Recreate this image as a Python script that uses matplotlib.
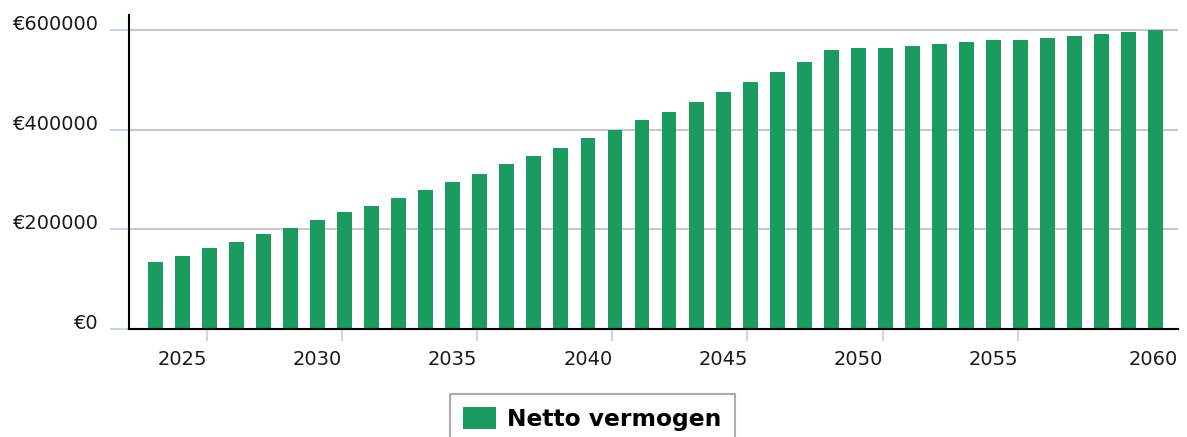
import matplotlib
matplotlib.use("Agg")
import matplotlib.pyplot as plt
from matplotlib.ticker import FuncFormatter

# data
jaren = list(range(2023, 2061))
vermogen = [135000, 147000, 163000, 175000, 191000, 203000, 219000, 235000,
            247000, 263000, 279000, 295000, 311000, 331000, 347000, 363000,
            383000, 399000, 419000, 435000, 455000, 475000, 495000, 515000,
            535000, 559000, 563000, 563000, 567000, 571000, 575000, 579000,
            579000, 583000, 587000, 591000, 595000, 599000]
tick_jaren = [2025, 2030, 2035, 2040, 2045, 2050, 2055, 2060]
y_ticks = [0, 200000, 400000, 600000]
reeks_naam = "Netto vermogen"

groen = "#1a9b60"
tick_kleur = "#ccd6eb"
grid_kleur = "#c8c8c8"

W, H = 1187, 437
fig = plt.figure(figsize=(W / 100, H / 100), dpi=100)
ax = fig.add_axes([129 / W, (H - 329) / H, (1178 - 129) / W, (329 - 15) / H])

ax.bar(jaren, vermogen, width=0.55, color=groen, label=reeks_naam, zorder=3)

ax.set_xlim(2022.02, 2060.83)
ax.set_ylim(0, 630000)

# y-as
ax.set_yticks(y_ticks)
ax.yaxis.set_major_formatter(FuncFormatter(lambda v, p: "€%d" % v))
ax.tick_params(axis="y", length=13.7, width=1.5, color=tick_kleur, pad=8,
               labelsize=14, labelcolor="#1a1a1a")
for lbl in ax.get_yticklabels():
    lbl.set_va("baseline")
ax.grid(axis="y", color=grid_kleur, linewidth=1.5, zorder=0)

# x-as: streepjes net links van de staven, labels een staaf naar links
ax.set_xticks([j - 0.1 for j in tick_jaren], minor=True)
ax.tick_params(axis="x", which="minor", length=8.6, width=1.5, color=tick_kleur)
label_pos = [j - 1 for j in tick_jaren[:-1]] + [2059.9]
ax.set_xticks(label_pos, [str(j) for j in tick_jaren])
ax.tick_params(axis="x", which="major", length=0, pad=15, labelsize=14,
               labelcolor="#1a1a1a")

for s in ["top", "right"]:
    ax.spines[s].set_visible(False)
ax.spines["left"].set_linewidth(1.5)
ax.spines["bottom"].set_linewidth(1.5)
ax.spines["bottom"].set_zorder(4)

leg = fig.legend(loc="upper center", bbox_to_anchor=(592.5 / W, 1 - 394 / H),
                 fancybox=False, edgecolor="#999999", frameon=True,
                 prop={"weight": "bold", "size": 16.8}, handlelength=1.42,
                 handleheight=1.07, borderpad=0.55, handletextpad=0.47,
                 borderaxespad=0)
leg.get_frame().set_linewidth(1.5)

fig.savefig("out.png", dpi=100)
